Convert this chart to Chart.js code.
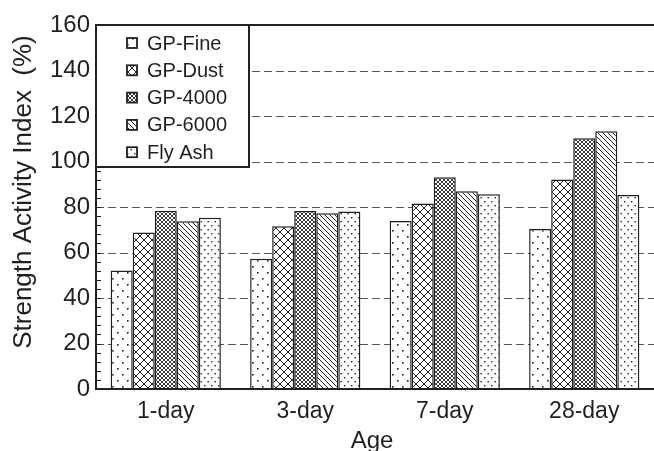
<!DOCTYPE html>
<html>
<head>
<meta charset="utf-8">
<script src="https://cdn.jsdelivr.net/npm/chart.js@4"></script>
<style>
html,body{margin:0;padding:0;background:#fff;}
#wrap{width:654px;height:451px;position:relative;}
</style>
</head>
<body>
<div id="wrap"><canvas id="c" width="654" height="451"></canvas></div>
<script>
// ---- data ----
const categories = ['1-day', '3-day', '7-day', '28-day'];
const seriesNames = ['GP-Fine', 'GP-Dust', 'GP-4000', 'GP-6000', 'Fly Ash'];
const gpFine = [52.1, 57.2, 73.8, 70.3];
const gpDust = [68.8, 71.5, 81.5, 92.1];
const gp4000 = [78.4, 78.2, 93.1, 110.2];
const gp6000 = [73.7, 77.2, 86.9, 113.3];
const flyAsh = [75.3, 78.0, 85.6, 85.3];
const yMin = 0, yMax = 160, yMajorStep = 20, yMinorStep = 4;
const xTitle = 'Age';
const yTitle = 'Strength Activity Index  (%)';

const FONT = "'Liberation Sans', Arial, Helvetica, sans-serif";
const INK = '#231f20';

// ---- hatch patterns ----
function makePattern(w, h, draw) {
  const c = document.createElement('canvas');
  c.width = w; c.height = h;
  const g = c.getContext('2d');
  g.fillStyle = '#fff'; g.fillRect(0, 0, w, h);
  g.fillStyle = INK; g.strokeStyle = INK;
  draw(g, w, h);
  return document.getElementById('c').getContext('2d').createPattern(c, 'repeat');
}
const patFine = makePattern(10, 12, (g) => {
  g.fillRect(2, 2, 1.6, 1.6); g.fillRect(7, 8, 1.6, 1.6);
});
const patDust = makePattern(8, 8, (g, w, h) => {
  g.lineWidth = 1;
  g.beginPath();
  g.moveTo(-1, -1); g.lineTo(w + 1, h + 1);
  g.moveTo(w + 1, -1); g.lineTo(-1, h + 1);
  g.stroke();
});
const pat4000 = makePattern(4, 4, (g, w, h) => {
  g.lineWidth = 0.9;
  g.beginPath();
  g.moveTo(-1, -1); g.lineTo(w + 1, h + 1);
  g.moveTo(w + 1, -1); g.lineTo(-1, h + 1);
  g.stroke();
});
const pat6000 = makePattern(5, 5, (g, w, h) => {
  g.lineWidth = 1;
  g.beginPath();
  g.moveTo(-1, -1); g.lineTo(w + 1, h + 1);
  g.moveTo(-1, h - 1); g.lineTo(1, h + 1);
  g.moveTo(w - 1, -1); g.lineTo(w + 1, 1);
  g.stroke();
});
const patFly = makePattern(7, 8, (g) => {
  g.fillRect(1, 1, 1.4, 1.4); g.fillRect(4.5, 5, 1.4, 1.4);
});
const patterns = [patFine, patDust, pat4000, pat6000, patFly];
const seriesValues = [gpFine, gpDust, gp4000, gp6000, flyAsh];

const datasets = seriesNames.map((name, i) => ({
  label: name,
  data: seriesValues[i],
  backgroundColor: patterns[i],
  borderColor: INK,
  borderWidth: 1.5,
  borderSkipped: 'start',
  barPercentage: 1.0,
  categoryPercentage: 0.79
}));

const decor = {
  id: 'decor',
  beforeDatasetsDraw(chart) {
    const { ctx, chartArea: a, scales: { y } } = chart;
    ctx.save();
    ctx.strokeStyle = '#555';
    ctx.lineWidth = 1;
    ctx.setLineDash([8, 4]);
    for (let v = yMin + yMajorStep; v < yMax; v += yMajorStep) {
      const py = Math.round(y.getPixelForValue(v)) + 0.5;
      ctx.beginPath(); ctx.moveTo(a.left, py); ctx.lineTo(a.right, py); ctx.stroke();
    }
    ctx.restore();
  },
  afterDatasetsDraw(chart) {
    const { ctx, chartArea: a, scales: { y } } = chart;
    ctx.save();
    // minor ticks inside
    ctx.strokeStyle = INK; ctx.lineWidth = 1;
    for (let v = yMin; v <= yMax; v += yMinorStep) {
      const py = Math.round(y.getPixelForValue(v)) + 0.5;
      ctx.beginPath(); ctx.moveTo(a.left, py); ctx.lineTo(a.left + 5, py); ctx.stroke();
    }
    // frame: left, bottom, top
    ctx.lineWidth = 2;
    ctx.beginPath();
    ctx.moveTo(a.right, a.top); ctx.lineTo(a.left, a.top);
    ctx.lineTo(a.left, a.bottom); ctx.lineTo(a.right, a.bottom);
    ctx.stroke();

    // legend box
    const lx = a.left, ly = a.top, lw = 153, lh = 142;
    ctx.fillStyle = '#fff';
    ctx.fillRect(lx, ly, lw, lh);
    ctx.strokeStyle = INK; ctx.lineWidth = 2;
    ctx.strokeRect(lx, ly, lw, lh);
    ctx.font = '20px ' + FONT;
    ctx.textBaseline = 'middle';
    ctx.textAlign = 'left';
    chart.data.datasets.forEach((ds, i) => {
      const cy = ly + 18 + i * 27.3;
      ctx.fillStyle = ds.backgroundColor;
      ctx.fillRect(lx + 31, cy - 5, 10, 10);
      ctx.lineWidth = 1.8;
      ctx.strokeStyle = INK;
      ctx.strokeRect(lx + 31, cy - 5, 10, 10);
      ctx.fillStyle = INK;
      ctx.fillText(ds.label, lx + 51, cy + 1);
    });

    // axis titles
    ctx.font = '24px ' + FONT;
    ctx.fillStyle = INK;
    ctx.textAlign = 'center';
    ctx.textBaseline = 'alphabetic';
    ctx.fillText(xTitle, (a.left + a.right) / 2 - 3, 448);
    ctx.font = '26px ' + FONT;
    ctx.translate(24, 192);
    ctx.rotate(-Math.PI / 2);
    ctx.textBaseline = 'middle';
    ctx.fillText(yTitle, 0, 0);
    ctx.restore();
  }
};

new Chart(document.getElementById('c'), {
  type: 'bar',
  data: { labels: categories, datasets },
  options: {
    responsive: false,
    animation: false,
    layout: { padding: { top: 25, right: 0, left: 0, bottom: 0 } },
    plugins: { legend: { display: false }, tooltip: { enabled: false } },
    scales: {
      x: {
        grid: { display: false, drawTicks: false },
        border: { display: false },
        ticks: { color: INK, font: { size: 23, family: FONT }, padding: 9, maxRotation: 0 },
        afterFit(s) { s.height = 62; }
      },
      y: {
        min: yMin, max: yMax,
        grid: { display: false, drawTicks: false },
        border: { display: false },
        ticks: { stepSize: yMajorStep, color: INK, font: { size: 24, family: FONT }, padding: 6 },
        afterFit(s) { s.width = 96; }
      }
    }
  },
  plugins: [decor]
});
</script>
</body>
</html>
